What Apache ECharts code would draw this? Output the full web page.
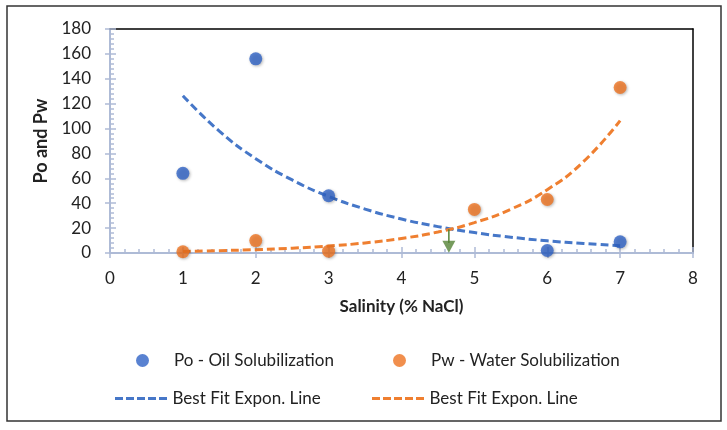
<!DOCTYPE html>
<html>
<head>
<meta charset="utf-8">
<script src="https://cdn.jsdelivr.net/npm/echarts@6/dist/echarts.min.js"></script>
<style>
html,body{margin:0;padding:0;background:#fff;}
#chart{width:727px;height:430px;}
</style>
</head>
<body>
<div id="chart"></div>
<script>
// ---- data ----
const poX = [1, 2, 3, 6, 7];
const poY = [64, 156, 46, 2, 9];
const pwX = [1, 2, 3, 5, 6, 7];
const pwY = [1, 10, 1.5, 35, 43, 133];
const fitX = [1, 1.5, 2, 2.5, 3, 3.5, 4, 4.5, 5, 5.5, 6, 6.5, 7];
const poFitY = [126.4, 97.9, 75.8, 58.7, 45.5, 35.3, 27.3, 21.2, 16.4, 12.7, 9.8, 7.6, 5.9];
const pwFitY = [1.3, 1.9, 2.7, 3.9, 5.6, 8.1, 11.7, 16.9, 24.4, 35.2, 50.9, 73.6, 106.4];
const arrowX = [4.65, 4.65];
const arrowY = [19, 8];
const arrowHeadY = [5];
const xTicks = ['0','1','2','3','4','5','6','7','8'];
const yTicks = ['0','20','40','60','80','100','120','140','160','180'];
const seriesNames = ['Po - Oil Solubilization', 'Pw - Water Solubilization', 'Best Fit Expon. Line (Po)', 'Best Fit Expon. Line (Pw)'];
const xTitle = 'Salinity (% NaCl)';
const yTitle = 'Po and Pw';

const zip = (xs, ys) => xs.map((x, i) => [x, ys[i]]);

const FONT = 'Lato';
const AXIS_COLOR = '#aebbd6';
const cBlue = '#2f63c6', cOrange = '#ee7320';
const cBlueFit = '#4677c8', cOrangeFit = '#ef7f30';
const DASH_ICON = 'path://M0 0H8V3H0Z M11 0H19V3H11Z M22 0H30V3H22Z M33 0H41V3H33Z M44 0H52V3H44Z';

const chart = echarts.init(document.getElementById('chart'), null, {renderer: 'canvas'});

const legendBase = {
  orient: 'horizontal',
  itemWidth: 53,
  itemHeight: 13,
  itemGap: 0,
  padding: 0,
  textStyle: {fontFamily: FONT, fontSize: 17, color: '#222'},
  formatter: n => n.replace(/ \((Po|Pw)\)$/, ''),
  selectedMode: false
};

const option = {
  animation: false,
  textStyle: {fontFamily: FONT},
  graphic: [{
    type: 'rect',
    shape: {x: 7, y: 6, width: 714, height: 415},
    style: {fill: 'none', stroke: '#333', lineWidth: 1.5},
    silent: true, z: -1
  }],
  grid: {left: 110, top: 29, right: 34, bottom: 177, containLabel: false},
  legend: [
    Object.assign({}, legendBase, {left: 136, top: 352, data: [seriesNames[0]]}),
    Object.assign({}, legendBase, {left: 393, top: 352, data: [seriesNames[1]]}),
    Object.assign({}, legendBase, {left: 115, top: 390, itemHeight: 3, data: [{name: seriesNames[2], icon: DASH_ICON}]}),
    Object.assign({}, legendBase, {left: 372, top: 390, itemHeight: 3, data: [{name: seriesNames[3], icon: DASH_ICON}]})
  ],
  xAxis: [{
    type: 'value', min: 0, max: 8, interval: 1, position: 'bottom',
    axisLine: {show: true, onZero: false, lineStyle: {color: AXIS_COLOR, width: 2}},
    axisTick: {show: true, inside: true, length: 6, lineStyle: {color: AXIS_COLOR, width: 1.5}},
    minorTick: {show: true, splitNumber: 5, length: 4, lineStyle: {color: AXIS_COLOR, width: 1.5}},
    splitLine: {show: false},
    axisLabel: {fontSize: 17, color: '#222', margin: 17, formatter: v => xTicks[v]},
    name: xTitle, nameLocation: 'middle', nameGap: 45,
    nameTextStyle: {fontSize: 17, fontWeight: 'bold', color: '#222'}
  }, {
    type: 'value', min: 0, max: 8, interval: 1, position: 'top',
    axisLine: {show: true, onZero: false, lineStyle: {color: '#000', width: 1.5}},
    axisTick: {show: false}, axisLabel: {show: false}, splitLine: {show: false}
  }, {
    type: 'value', min: 0, max: 8, interval: 1, position: 'bottom',
    axisLine: {show: false, onZero: false},
    axisTick: {show: true, inside: false, length: 5, lineStyle: {color: AXIS_COLOR, width: 1.5}},
    axisLabel: {show: false}, splitLine: {show: false}
  }],
  yAxis: [{
    type: 'value', min: 0, max: 180, interval: 20, position: 'left',
    axisLine: {show: true, onZero: false, lineStyle: {color: AXIS_COLOR, width: 2}},
    axisTick: {show: true, inside: true, length: 6, lineStyle: {color: AXIS_COLOR, width: 1.5}},
    minorTick: {show: true, splitNumber: 5, length: 4, lineStyle: {color: AXIS_COLOR, width: 1.5}},
    splitLine: {show: false},
    axisLabel: {fontSize: 17, color: '#222', margin: 19, formatter: v => yTicks[v / 20]},
    name: yTitle, nameLocation: 'middle', nameGap: 54, nameRotate: 90,
    nameTextStyle: {fontSize: 18, fontWeight: 'bold', color: '#222'}
  }, {
    type: 'value', min: 0, max: 180, interval: 20, position: 'right',
    axisLine: {show: true, onZero: false, lineStyle: {color: '#000', width: 1.5}},
    axisTick: {show: false}, axisLabel: {show: false}, splitLine: {show: false}
  }, {
    type: 'value', min: 0, max: 180, interval: 20, position: 'left',
    axisLine: {show: false, onZero: false},
    axisTick: {show: true, inside: false, length: 5, lineStyle: {color: AXIS_COLOR, width: 1.5}},
    axisLabel: {show: false}, splitLine: {show: false}
  }],
  series: [{
    name: seriesNames[0], type: 'scatter', data: zip(poX, poY),
    symbol: 'circle', symbolSize: 13, z: 5,
    itemStyle: {color: cBlue, shadowBlur: 3, shadowColor: 'rgba(0,0,0,0.35)', shadowOffsetX: 1, shadowOffsetY: 1}
  }, {
    name: seriesNames[1], type: 'scatter', data: zip(pwX, pwY),
    symbol: 'circle', symbolSize: 13, z: 5,
    itemStyle: {color: cOrange, shadowBlur: 3, shadowColor: 'rgba(0,0,0,0.35)', shadowOffsetX: 1, shadowOffsetY: 1}
  }, {
    name: seriesNames[2], type: 'line', data: zip(fitX, poFitY), smooth: true,
    symbol: 'none', showSymbol: false, z: 3,
    lineStyle: {color: cBlueFit, width: 3, type: [8, 4]},
    itemStyle: {color: cBlueFit}
  }, {
    name: seriesNames[3], type: 'line', data: zip(fitX, pwFitY), smooth: true,
    symbol: 'none', showSymbol: false, z: 3,
    lineStyle: {color: cOrangeFit, width: 3, type: [8, 4]},
    itemStyle: {color: cOrangeFit}
  }, {
    name: 'arrow', type: 'line', data: zip(arrowX, arrowY),
    symbol: 'none', showSymbol: false, z: 4,
    lineStyle: {color: '#548235', width: 1.5}
  }, {
    name: 'arrowHead', type: 'scatter', data: zip([arrowX[0]], arrowHeadY),
    symbol: 'triangle', symbolRotate: 180, symbolSize: [13, 12], z: 4,
    itemStyle: {color: '#548235'}
  }]
};
chart.setOption(option);
</script>
</body>
</html>
